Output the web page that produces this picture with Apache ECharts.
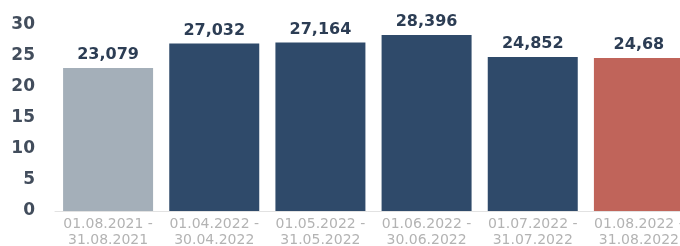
<!DOCTYPE html>
<html>
<head>
<meta charset="UTF-8">
<title>Bar chart</title>
<script src="https://cdn.jsdelivr.net/npm/echarts@6/dist/echarts.min.js"></script>
<style>
  html, body { margin: 0; padding: 0; background: #fff; }
  #chart1 { width: 680px; height: 246px; }
</style>
</head>
<body>
<div id="chart1"></div>
<script type="text/javascript">
// period labels (x axis)
var periods = [
  '01.08.2021 -\n31.08.2021',
  '01.04.2022 -\n30.04.2022',
  '01.05.2022 -\n31.05.2022',
  '01.06.2022 -\n30.06.2022',
  '01.07.2022 -\n31.07.2022',
  '01.08.2022 -\n31.08.2022'
];
// values as shown on the bars
var values = [23.079, 27.032, 27.164, 28.396, 24.852, 24.68];
// colour per bar
var barColors = ['#a4afb9', '#2f4a6a', '#2f4a6a', '#2f4a6a', '#2f4a6a', '#c0645a'];
var yTicks = [0, 5, 10, 15, 20, 25, 30];

var chart1 = echarts.init(document.getElementById('chart1'));
var option = {
  animation: false,
  grid: {
    left: 55,
    top: 25,
    bottom: 35,
    width: 637,        // last bar is cut off at the right edge
    outerBoundsMode: 'none',
    containLabel: false
  },
  xAxis: {
    type: 'category',
    data: periods,
    axisLine: { show: true, lineStyle: { color: '#e2e2e2', width: 1 } },
    axisTick: { show: false },
    axisLabel: {
      interval: 0,
      color: '#b3b3b3',
      fontFamily: 'DejaVu Sans',
      fontSize: 14,
      lineHeight: 16,
      margin: 5
    }
  },
  yAxis: {
    type: 'value',
    min: yTicks[0],
    max: yTicks[yTicks.length - 1],
    interval: 5,
    splitLine: { show: false },
    axisLine: { show: false },
    axisTick: { show: false },
    axisLabel: {
      color: '#424d5c',
      fontFamily: 'DejaVu Sans',
      fontWeight: 'bold',
      fontSize: 17,
      margin: 20
    }
  },
  series: [{
    type: 'bar',
    barWidth: 90,
    data: values.map(function (v, i) {
      return { value: v, itemStyle: { color: barColors[i] } };
    }),
    label: {
      show: true,
      position: 'top',
      distance: 5,
      color: '#2c3d54',
      fontFamily: 'DejaVu Sans',
      fontWeight: 'bold',
      fontSize: 16,
      formatter: function (p) {
        return String(p.value).replace('.', ',');
      }
    }
  }]
};
chart1.setOption(option);
</script>
</body>
</html>
